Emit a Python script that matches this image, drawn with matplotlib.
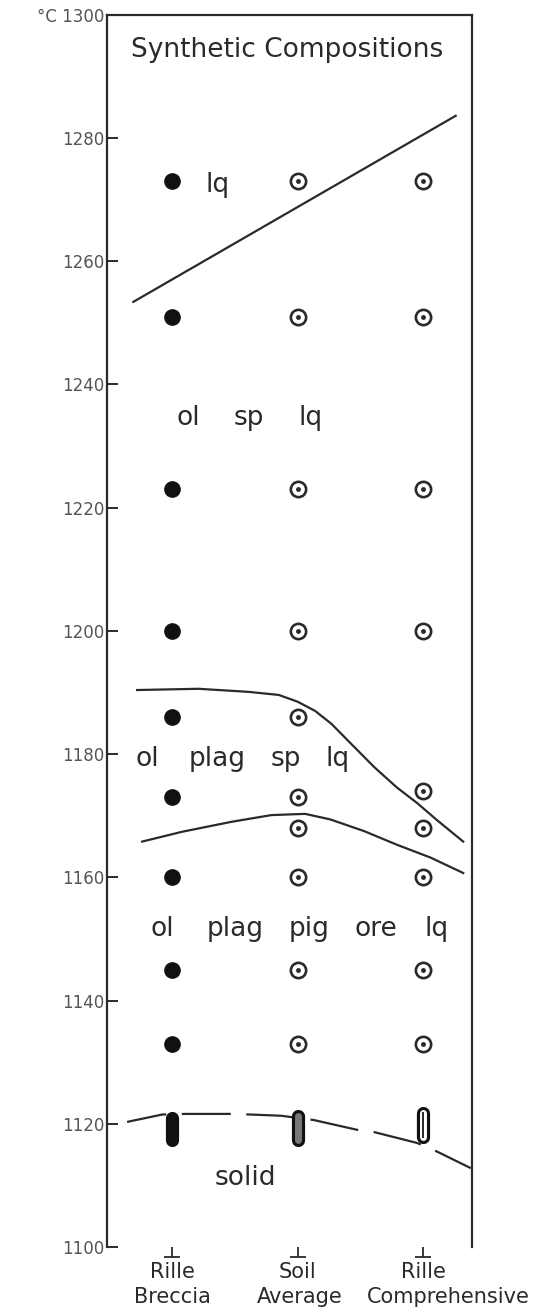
import matplotlib.pyplot as plt
import matplotlib.transforms as mtransforms

# column positions and names
cols = [1, 2, 3]
col_top = ['Rille', 'Soil', 'Rille']
col_bottom = ['Breccia', 'Average', 'Comprehensive']
col_bottom_x = [1.0, 2.02, 3.2]

# run temperatures (deg C)
breccia_T = [1273, 1251, 1223, 1200, 1186, 1173, 1160, 1145, 1133]
soil_T = [1273, 1251, 1223, 1200, 1186, 1173, 1168, 1160, 1145, 1133]
comp_T = [1273, 1251, 1223, 1200, 1174, 1168, 1160, 1145, 1133]

# melting ranges near the solidus (low, high)
solid_lo = [1117.3, 1117.3, 1117.9]
solid_hi = [1120.9, 1121.2, 1121.8]

# phase boundaries
liq_x = [0.69, 3.26]
liq_T = [1253.4, 1283.6]

sp_x = [0.72, 1.21, 1.61, 1.85, 2.00, 2.14, 2.27, 2.42, 2.61, 2.79, 2.95, 3.11, 3.32]
sp_T = [1190.4, 1190.6, 1190.1, 1189.6, 1188.5, 1187.0, 1184.9, 1181.8,
        1177.9, 1174.6, 1172.1, 1169.3, 1165.8]

plag_x = [0.76, 1.08, 1.47, 1.79, 2.06, 2.26, 2.53, 2.79, 3.06, 3.32]
plag_T = [1165.8, 1167.4, 1169.0, 1170.1, 1170.3, 1169.4, 1167.5, 1165.3,
          1163.2, 1160.7]

sol_x = [0.64, 0.92, 1.10, 1.50, 1.87, 2.13, 2.50, 2.60, 2.95, 3.08, 3.38]
sol_T = [1120.3, 1121.5, 1121.6, 1121.6, 1121.3, 1120.6, 1118.9, 1118.7,
         1116.9, 1115.8, 1112.8]

# field labels: (text, x, T)
fields = [
    ('lq', 1.36, 1272.4),
    ('ol', 1.13, 1234.5), ('sp', 1.61, 1234.5), ('lq', 2.10, 1234.5),
    ('ol', 0.80, 1179.2), ('plag', 1.36, 1179.2), ('sp', 1.91, 1179.2),
    ('lq', 2.32, 1179.2),
    ('ol', 0.92, 1151.6), ('plag', 1.50, 1151.6), ('pig', 2.09, 1151.6),
    ('ore', 2.62, 1151.6), ('lq', 3.11, 1151.6),
    ('solid', 1.58, 1111.2),
]
title = 'Synthetic Compositions'

yticks = list(range(1100, 1301, 20))
ylabels = [str(t) for t in yticks[:-1]] + ['°C 1300']

ink = '#2a2a2a'

fig = plt.figure(figsize=(5.45, 13.1), dpi=100)
ax = fig.add_axes([107 / 545, 1 - 1247 / 1310, 365 / 545, (1247 - 14.75) / 1310])
ax.set_xlim(0.48, 3.39)
ax.set_ylim(1100, 1300)

for side in ['left', 'top', 'right']:
    ax.spines[side].set_linewidth(1.6)
    ax.spines[side].set_color(ink)
ax.spines['bottom'].set_visible(False)

ax.set_yticks(yticks)
ax.set_yticklabels(ylabels)
ax.tick_params(axis='y', direction='in', length=8, width=1.4, color=ink,
               labelsize=12, labelcolor='#555555', pad=2)
ax.set_xticks(cols)
ax.tick_params(axis='x', direction='out', length=7, width=1.3, color=ink,
               labelbottom=False)

# bar of the inverted-T marks under the columns
trans = mtransforms.blended_transform_factory(ax.transData, ax.transAxes)
bar_trans = mtransforms.offset_copy(trans, fig=fig, y=-7, units='points')
ax.plot(cols, [0] * 3, ls='none', marker='_', ms=11, mew=1.3, color=ink,
        transform=bar_trans, clip_on=False)

for x, t in zip(cols, col_top):
    ax.text(x, -0.0205, t, transform=trans, ha='center', va='center',
            fontsize=15, color=ink)
for x, t in zip(col_bottom_x, col_bottom):
    ax.text(x, -0.0405, t, transform=trans, ha='center', va='center',
            fontsize=15, color=ink)

# boundaries
ax.plot(liq_x, liq_T, color=ink, lw=1.6)
ax.plot(sp_x, sp_T, color=ink, lw=1.6, solid_joinstyle='round')
ax.plot(plag_x, plag_T, color=ink, lw=1.6, solid_joinstyle='round')
ax.plot(sol_x, sol_T, color=ink, lw=1.6, linestyle=(4, (22, 7)))

# experiment points
ax.plot([1] * len(breccia_T), breccia_T, 'o', ms=11, color='#111111', zorder=3)
for x, temps in [(2, soil_T), (3, comp_T)]:
    ax.plot([x] * len(temps), temps, 'o', ms=11, mfc='white', mec=ink,
            mew=1.9, zorder=3)
    ax.plot([x] * len(temps), temps, 'o', ms=2.5, color=ink, zorder=4)

# melting ranges at the solidus
for i, x in enumerate(cols):
    seg = [solid_lo[i], solid_hi[i]]
    ax.plot([x, x], seg, color='#111111', lw=9.5, solid_capstyle='round', zorder=3)
    if i == 1:
        ax.plot([x, x], seg, color='#777777', lw=5, solid_capstyle='round', zorder=4)
    elif i == 2:
        ax.plot([x, x], seg, color='white', lw=5, solid_capstyle='round', zorder=4)
        ax.plot([x, x], seg, color=ink, lw=1.4, zorder=5)

ax.text(1.92, 1294.3, title, ha='center', va='center', color=ink, fontsize=19)
for text, x, t in fields:
    ax.text(x, t, text, ha='center', va='center', color=ink, fontsize=19)

fig.savefig('out.png', dpi=100, facecolor='white')
